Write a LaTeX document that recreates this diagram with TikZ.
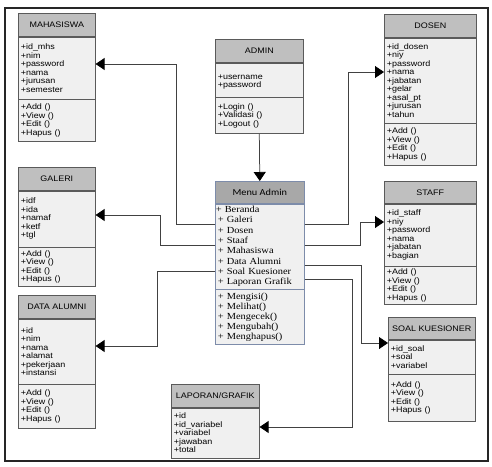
\documentclass[tikz,border=0pt]{standalone}
\usepackage{fontspec}
\usepackage{tikz}
\usetikzlibrary{arrows.meta}
\newfontfamily\umlsf[FakeStretch=1.12]{Liberation Sans}
\newfontfamily\umlrm[FakeStretch=1.12]{Liberation Serif}
\newfontfamily\umlhd[FakeStretch=1.12]{Carlito}
\definecolor{hdrgray}{RGB}{191,191,191}
\definecolor{menugray}{RGB}{168,168,168}
\definecolor{bodygray}{RGB}{240,240,240}
\definecolor{edgegray}{RGB}{90,90,90}
\definecolor{menuedge}{RGB}{125,140,170}
\definecolor{wiregray}{RGB}{65,65,65}

\begin{document}
\begin{tikzpicture}[x=1pt,y=-1pt,
  hdr/.style={draw=edgegray, fill=hdrgray, line width=0.6pt, anchor=north west, inner sep=0pt, font=\umlsf\fontsize{8}{8.5}\selectfont},
  body/.style={draw=edgegray, fill=bodygray, line width=0.6pt, anchor=north west, inner xsep=2.5pt, inner ysep=0pt, align=left, font=\umlsf\fontsize{8}{8.5}\selectfont},
  wire/.style={draw=wiregray, line width=0.75pt},
  tip/.style={wire, -{Triangle[width=12pt,length=9pt,color=black]}}]
\useasboundingbox (0,0) rectangle (492,466);
\draw [line width=1.6pt, black!85] (5,8) rectangle (488,461);

% left column
\node [hdr, minimum width=77pt, minimum height=23pt] (mhsH) at (18,13) {MAHASISWA};
\node [body, text width=72pt, minimum height=62pt] (mhsA) at (mhsH.south west) {+id\_mhs\\+nim\\+password\\+nama\\+jurusan\\+semester};
\node [body, text width=72pt, minimum height=42pt] (mhsM) at (mhsA.south west) {+Add ()\\+View ()\\+Edit ()\\+Hapus ()};

\node [hdr, minimum width=77pt, minimum height=23pt] (galH) at (18,167) {GALERI};
\node [body, text width=72pt, minimum height=56pt] (galA) at (galH.south west) {+idf\\+ida\\+namaf\\+ketf\\+tgl};
\node [body, text width=72pt, minimum height=39pt] (galM) at (galA.south west) {+Add ()\\+View ()\\+Edit ()\\+Hapus ()};

\node [hdr, minimum width=77pt, minimum height=23pt] (almH) at (18,295) {DATA ALUMNI};
\node [body, text width=72pt, minimum height=65pt] (almA) at (almH.south west) {+id\\+nim\\+nama\\+alamat\\+pekerjaan\\+instansi};
\node [body, text width=72pt, minimum height=44pt] (almM) at (almA.south west) {+Add ()\\+View ()\\+Edit ()\\+Hapus ()};

% middle column
\node [hdr, minimum width=88pt, minimum height=23pt] (admH) at (215,39) {ADMIN};
\node [body, text width=83pt, minimum height=34pt] (admA) at (admH.south west) {\mbox{}\\+username\\+password};
\node [body, text width=83pt, minimum height=36pt] (admM) at (admA.south west) {+Login ()\\+Validasi ()\\+Logout ()};

\node [hdr, draw=menuedge, fill=menugray, minimum width=89pt, minimum height=22pt, font=\umlhd\fontsize{9.2}{10}\selectfont] (menuH) at (215,181) {Menu Admin};
\node [body, draw=menuedge, text width=84pt, minimum height=85pt, font=\umlrm\fontsize{9.3}{10.29}\selectfont] (menuA) at (menuH.south west) {\hspace*{-2pt}+ Beranda\\+ Galeri\\+ Dosen\\+ Staaf\\+ Mahasiswa\\+ Data Alumni\\+ Soal Kuesioner\\+ Laporan Grafik};
\node [body, draw=menuedge, text width=84pt, minimum height=55pt, font=\umlrm\fontsize{9.3}{10}\selectfont] (menuM) at (menuA.south west) {+ Mengisi()\\+ Melihat()\\+ Mengecek()\\+ Mengubah()\\+ Menghapus()};

\node [hdr, minimum width=88pt, minimum height=23pt] (lapH) at (171,384) {LAPORAN/GRAFIK};
\node [body, text width=83pt, minimum height=50pt] (lapA) at (lapH.south west) {+id\\+id\_variabel\\+variabel\\+jawaban\\+total};

% right column
\node [hdr, minimum width=92pt, minimum height=23pt] (dsnH) at (384,14) {DOSEN};
\node [body, text width=87pt, minimum height=85pt] (dsnA) at (dsnH.south west) {+id\_dosen\\+niy\\+password\\+nama\\+jabatan\\+gelar\\+asal\_pt\\+jurusan\\+tahun};
\node [body, text width=87pt, minimum height=42pt] (dsnM) at (dsnA.south west) {+Add ()\\+View ()\\+Edit ()\\+Hapus ()};

\node [hdr, minimum width=92pt, minimum height=22pt] (stfH) at (384,181) {STAFF};
\node [body, text width=87pt, minimum height=62pt] (stfA) at (stfH.south west) {+id\_staff\\+niy\\+password\\+nama\\+jabatan\\+bagian};
\node [body, text width=87pt, minimum height=38pt] (stfM) at (stfA.south west) {+Add ()\\+View ()\\+Edit ()\\+Hapus ()};

\node [hdr, minimum width=87pt, minimum height=22pt] (soalH) at (388,317) {SOAL KUESIONER};
\node [body, text width=82pt, minimum height=34pt] (soalA) at (soalH.south west) {+id\_soal\\+soal\\+variabel};
\node [body, text width=82pt, minimum height=47pt] (soalM) at (soalA.south west) {+Add ()\\+View ()\\+Edit ()\\+Hapus ()};

% % % % % % % % % % % % % % % % % % % % % % % % % %

\draw [tip] (admM.south) -- (menuH.north);

\draw [tip] (menuA.west |- 0,224) -| (176,64) -- (mhsA.east |- 0,64);
\draw [tip] (menuA.west |- 0,245) -| (160,215) -- (galA.east |- 0,215);
\draw [tip] (menuA.west |- 0,271) -| (157,346) -- (almA.east |- 0,346);

\draw [tip] (menuA.east |- 0,224) -| (348,72) -- (dsnA.west |- 0,72);
\draw [tip] (menuA.east |- 0,245) -| (360,222) -- (stfA.west |- 0,222);
\draw [tip] (menuA.east |- 0,265) -| (361,343) -- (soalA.west |- 0,343);
\draw [tip] (menuA.east |- 0,279) -| (352,427) -- (lapA.east |- 0,427);
\end{tikzpicture}
\end{document}
